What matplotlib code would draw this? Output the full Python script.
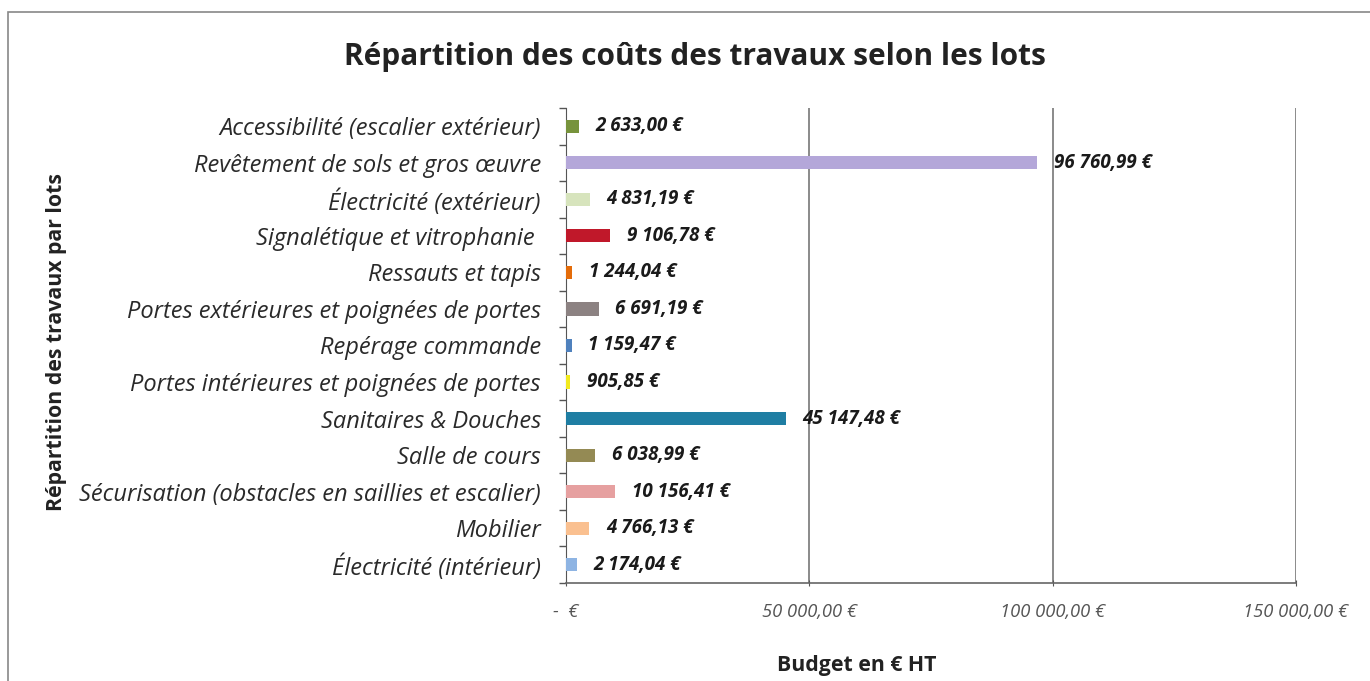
import matplotlib
matplotlib.use("Agg")
import matplotlib.pyplot as plt
from matplotlib.patches import Rectangle
from matplotlib.ticker import FixedLocator

categories = [
    "Accessibilité (escalier extérieur)",
    "Revêtement de sols et gros œuvre",
    "Électricité (extérieur)",
    "Signalétique et vitrophanie ",
    "Ressauts et tapis",
    "Portes extérieures et poignées de portes",
    "Repérage commande",
    "Portes intérieures et poignées de portes",
    "Sanitaires & Douches",
    "Salle de cours",
    "Sécurisation (obstacles en saillies et escalier)",
    "Mobilier",
    "Électricité (intérieur)",
]
values = [2633.00, 96760.99, 4831.19, 9106.78, 1244.04, 6691.19, 1159.47,
          905.85, 45147.48, 6038.99, 10156.41, 4766.13, 2174.04]
colors = ["#77933C", "#B4A7D9", "#D7E4BD", "#C0182A", "#E46C0A", "#8C8282",
          "#4F81BD", "#F2EA1F", "#1F7EA3", "#948A54", "#E6A0A0", "#FAC090",
          "#8EB4E3"]
xticks = [0, 50000, 100000, 150000]
xtick_labels = ["-  €", "50 000,00 €", "100 000,00 €", "150 000,00 €"]


def fr(v):
    s = f"{v:,.2f}"
    return s.replace(",", " ").replace(".", ",") + " €"


FONT = "Open Sans"
fig = plt.figure(figsize=(13.7, 6.81), dpi=100)
W, H = 1370, 681
ax = fig.add_axes([566 / W, 1 - 583 / H, (1296 - 566) / W, (583 - 108) / H])

ypos = list(range(len(categories)))
ax.barh(ypos, values, height=0.36, color=colors, zorder=3)
ax.set_ylim(len(categories) - 0.5, -0.5)
ax.set_xlim(0, 150000)

for y, v in zip(ypos, values):
    ax.annotate(fr(v), xy=(v, y), xytext=(12, 0), textcoords="offset points",
                va="center", ha="left", fontsize=13.5, fontstyle="italic",
                fontweight="bold", family=FONT, color="#1a1a1a")

ax.set_yticks(ypos)
ax.set_yticklabels(categories, fontsize=17, fontstyle="italic",
                   family=FONT, color="#2a2a2a")
ax.yaxis.set_minor_locator(FixedLocator([i - 0.5 for i in range(len(categories) + 1)]))
ax.tick_params(axis="y", which="major", length=0, pad=18)
ax.tick_params(axis="y", which="minor", length=5, color="#555555", width=1)

ax.set_xticks(xticks)
ax.set_xticklabels(xtick_labels, fontsize=13.2, fontstyle="italic",
                   family=FONT, color="#555555")
ax.tick_params(axis="x", length=5, color="#555555", pad=12, direction="inout")

ax.grid(axis="x", color="#777777", linewidth=1.2, zorder=0)
for s in ["top", "right"]:
    ax.spines[s].set_visible(False)
ax.spines["left"].set_color("#555555")
ax.spines["bottom"].set_color("#666666")
ax.spines["bottom"].set_linewidth(1.2)

fig.text(695 / W, 1 - 57 / H, "Répartition des coûts des travaux selon les lots",
         ha="center", va="center", fontsize=21.5, fontweight="bold",
         family=FONT, color="#222222")
fig.text(57 / W, 1 - 342 / H, "Répartition des travaux par lots",
         ha="center", va="center", rotation=90, fontsize=15.3,
         fontweight="bold", family=FONT, color="#222222")
fig.text(857 / W, 1 - 665 / H, "Budget en € HT", ha="center", va="center",
         fontsize=15.3, fontweight="bold", family=FONT, color="#222222")

fig.patches.append(Rectangle((8 / W, -0.1), 1.2, 1 - 12 / H + 0.1,
                             transform=fig.transFigure, fill=False,
                             edgecolor="#888888", linewidth=1.2))

fig.savefig("out.png", dpi=100, facecolor="white")
